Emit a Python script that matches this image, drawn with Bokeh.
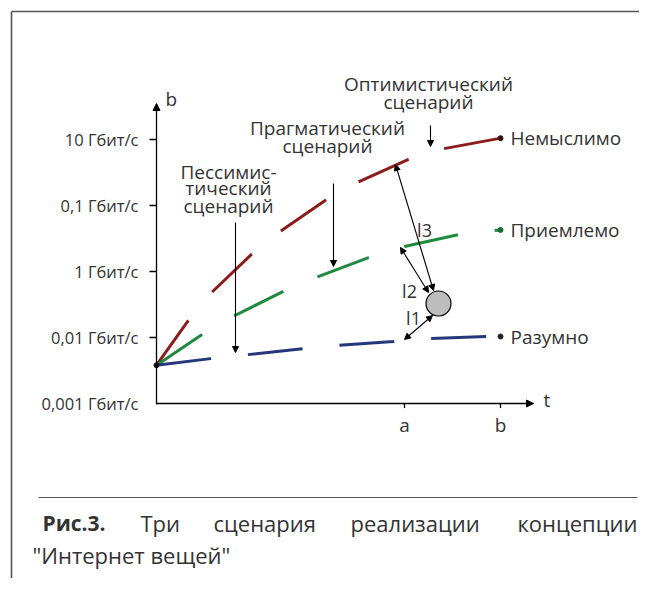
from bokeh.plotting import figure
from bokeh.models import Range1d, Arrow, NormalHead
from bokeh.core.properties import value
from bokeh.embed import file_html
from bokeh.resources import INLINE

# ---------------- data ----------------
# vertical axis: log-scale levels (as labelled in the original figure)
tick_levels = [4, 3, 2, 1, 0]
tick_labels = ["10 Гбит/с", "0,1 Гбит/с", "1 Гбит/с", "0,01 Гбит/с", "0,001 Гбит/с"]
# horizontal axis: time marks
t_ticks = [248, 344]
t_tick_labels = ["a", "b"]

# scenario curves (t, level)
red_t = [0, 31, 55, 95, 124, 169, 201, 252, 287, 344]
red_b = [0.58, 1.24, 1.68, 2.26, 2.61, 3.08, 3.35, 3.70, 3.86, 4.02]
green_t = [0, 46, 78, 127, 161, 212, 248, 302, 338, 344]
green_b = [0.58, 1.05, 1.33, 1.70, 1.92, 2.21, 2.38, 2.56, 2.62, 2.63]
blue_t = [0, 54, 91, 146, 182, 237, 274, 330, 344]
blue_b = [0.58, 0.68, 0.74, 0.83, 0.88, 0.94, 0.985, 1.015, 1.015]

outcome_labels = ["Немыслимо", "Приемлемо", "Разумно"]
outcome_b = [4.02, 2.63, 1.015]
outcome_colors = ["#3a0c0c", "#1c6a34", "#222222"]

scen_lines = ["Пессимис-", "тический", "сценарий",
              "Прагматический", "сценарий",
              "Оптимистический", "сценарий"]
scen_x = [72, 72, 72, 171, 171, 272, 272]
scen_y = [3.515, 3.258, 3.0, 4.167, 3.894, 4.848, 4.561]
# scenario pointer arrows (t, level from -> level to)
ptr_t = [79, 177, 274]
ptr_from = [2.742, 3.333, 4.212]
ptr_to = [0.773, 2.076, 3.894]

# current position (circle) and distances l1..l3
now_t, now_b = 282, 1.515
dist_names = ["l1", "l2", "l3"]
dist_from_t = [248, 244, 239]
dist_from_b = [0.97, 2.364, 3.621]
dist_to_t = [276, 272, 277]
dist_to_b = [1.333, 1.682, 1.712]
dist_lab_t = [257, 253, 268]
dist_lab_b = [1.303, 1.712, 2.636]

caption_head = "Рис.3."
caption_words = ["Три", "сценария", "реализации", "концепции"]
caption_line2 = '"Интернет вещей"'

RED, GREEN, BLUE = "#8b1c1c", "#1f8a3f", "#25377a"
TXT = "#333333"
FONT = value("Open Sans")

# -------------- figure: 1 unit of t = 1 px, 1 level = 66 px --------------
W, H = 639, 578
X0, Y0, LV = 156, 403, 66          # origin of the axes on the canvas, px per level
p = figure(width=W, height=H, output_backend="svg", toolbar_location=None,
           x_range=Range1d(-X0, W - X0),
           y_range=Range1d((Y0 - H) / LV, Y0 / LV),
           x_axis_location=None, y_axis_location=None, min_border=0)
p.grid.visible = False
p.outline_line_color = None
p.background_fill_color = "white"
p.border_fill_color = "white"


def lv(py):
    return (Y0 - py) / LV


# outer frame (top and left edges) and caption rule
p.segment(x0=[11 - X0, 11 - X0], y0=[lv(11), lv(11)], x1=[W - X0 + 5, 11 - X0],
          y1=[lv(11), lv(H + 5)], line_color="#555555", line_width=1.6)
p.segment(x0=[38 - X0], y0=[lv(497)], x1=[637 - X0], y1=[lv(497)],
          line_color="#555555", line_width=1.2)

# axes
p.add_layout(Arrow(end=NormalHead(size=7, fill_color="black", line_color="black"),
                   x_start=0, y_start=-0.01, x_end=0, y_end=4.545,
                   line_color="black", line_width=1.3))
p.add_layout(Arrow(end=NormalHead(size=7, fill_color="black", line_color="black"),
                   x_start=-0.5, y_start=0.0, x_end=377, y_end=0.0,
                   line_color="black", line_width=1.3))
p.segment(x0=[-7] * 4, y0=tick_levels[:4], x1=[0] * 4, y1=tick_levels[:4],
          line_color="black", line_width=1.3)
p.segment(x0=t_ticks, y0=[0, 0], x1=t_ticks, y1=[-0.07, -0.07],
          line_color="black", line_width=1.3)

p.text(x=[-18] * 5, y=tick_levels, text=tick_labels, text_font=FONT,
       text_font_size=value("16.5px"), text_align="right", text_baseline="middle",
       text_color=TXT)
p.text(x=t_ticks, y=[-0.32, -0.32], text=t_tick_labels, text_font=FONT,
       text_font_size=value("19px"), text_align="center", text_baseline="middle",
       text_color=TXT)
p.text(x=[9, 387], y=[4.62, 0.05], text=["b", "t"], text_font=FONT,
       text_font_size=value("19px"), text_align="left", text_baseline="middle",
       text_color=TXT)

# scenario curves
for tt, bb, c in [(red_t, red_b, RED), (green_t, green_b, GREEN), (blue_t, blue_b, BLUE)]:
    p.line(tt, bb, line_color=c, line_width=3, line_dash="55 37")
p.scatter([0], [0.58], size=5, color="#111111")
p.scatter([344] * 3, outcome_b, size=5, color=outcome_colors)
p.text(x=[354] * 3, y=outcome_b, text=outcome_labels, text_font=FONT,
       text_font_size=value("19px"), text_align="left", text_baseline="middle",
       text_color=TXT)

# scenario labels and pointers
p.text(x=scen_x, y=scen_y, text=scen_lines, text_font=FONT,
       text_font_size=value("19px"), text_align="center", text_baseline="middle",
       text_color=TXT)
for xt, y0, y1 in zip(ptr_t, ptr_from, ptr_to):
    p.add_layout(Arrow(end=NormalHead(size=6, fill_color="black", line_color="black"),
                       x_start=xt, y_start=y0, x_end=xt, y_end=y1,
                       line_color="black", line_width=1.1))

# distances to the current position
for x0, y0, x1, y1 in zip(dist_from_t, dist_from_b, dist_to_t, dist_to_b):
    p.add_layout(Arrow(start=NormalHead(size=6, fill_color="black", line_color="black"),
                       end=NormalHead(size=6, fill_color="black", line_color="black"),
                       x_start=x0, y_start=y0, x_end=x1, y_end=y1,
                       line_color="black", line_width=1.1))
p.text(x=dist_lab_t, y=dist_lab_b, text=dist_names, text_font=FONT,
       text_font_size=value("18px"), text_align="center", text_baseline="middle",
       text_color=TXT)
p.scatter([now_t], [now_b], size=25, fill_color="#bdbdbd", line_color="black",
          line_width=1.2)

# caption (justified first line)
cap1, cap2 = lv(522), lv(554)
p.text(x=[42 - X0], y=[cap1], text=[caption_head], text_font=FONT,
       text_font_size=value("21px"), text_font_style="bold", text_align="left",
       text_baseline="middle", text_color=TXT)
p.text(x=[140 - X0, 213 - X0, 350 - X0], y=[cap1] * 3, text=caption_words[:3],
       text_font=FONT, text_font_size=value("22px"), text_align="left",
       text_baseline="middle", text_color=TXT)
p.text(x=[637 - X0], y=[cap1], text=[caption_words[3]], text_font=FONT,
       text_font_size=value("22px"), text_align="right", text_baseline="middle",
       text_color=TXT)
p.text(x=[32 - X0], y=[cap2], text=[caption_line2], text_font=FONT,
       text_font_size=value("22px"), text_align="left", text_baseline="middle",
       text_color=TXT)

open("out.html", "w").write(file_html(p, INLINE))
